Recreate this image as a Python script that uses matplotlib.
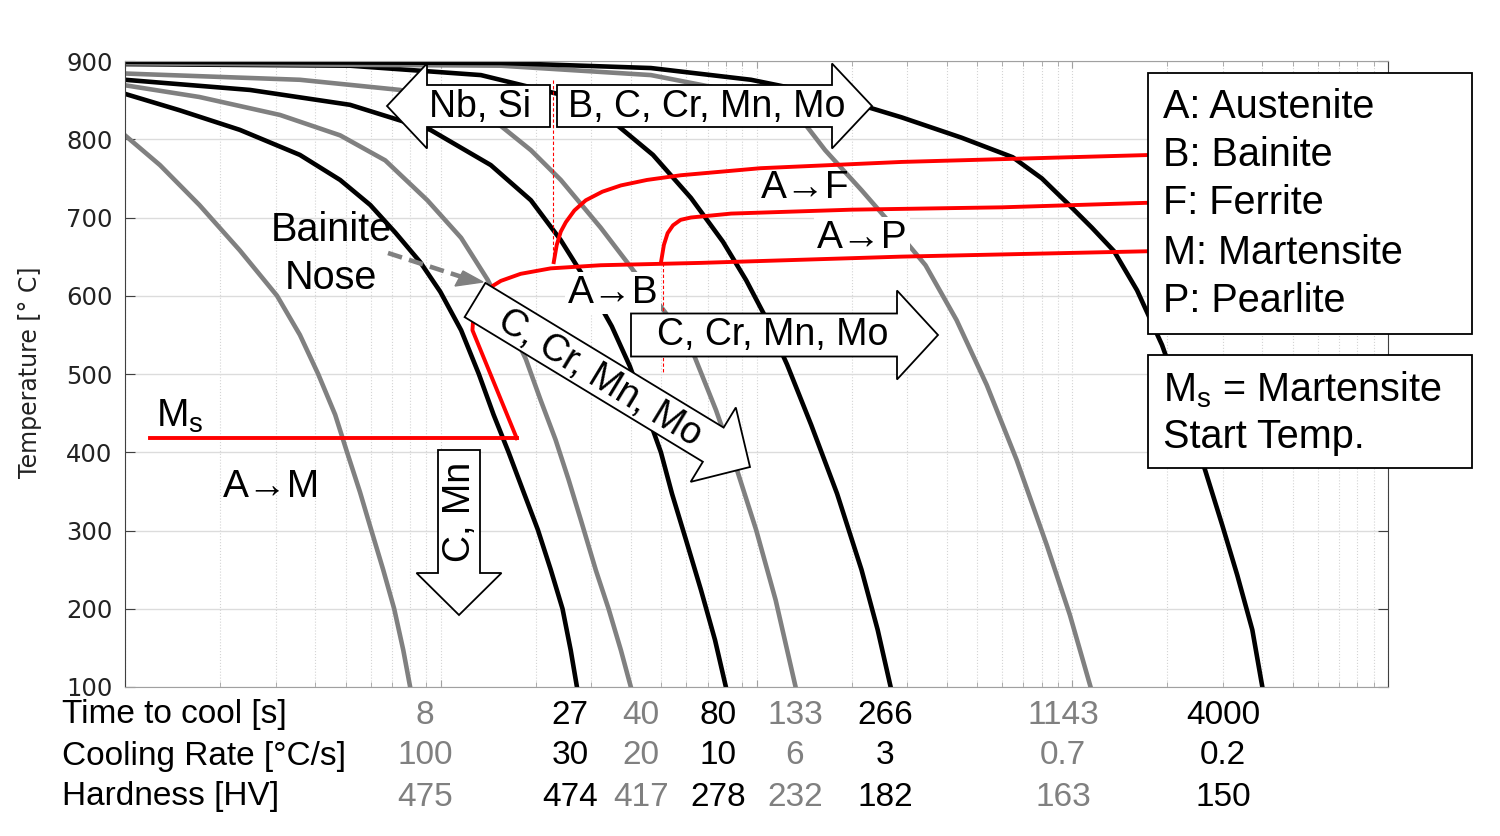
import numpy as np
import matplotlib
matplotlib.use("Agg")
import matplotlib.pyplot as plt
from matplotlib.patches import Polygon, Rectangle
from matplotlib.lines import Line2D

plt.rcParams['font.family'] = ['Liberation Sans', 'DejaVu Sans']
plt.rcParams['mathtext.default'] = 'regular'

W, H = 1500, 836

# cooling curves: (time [s], temperature [C])
curve_8 = [(1.0, 805), (1.29, 767), (1.72, 716), (2.31, 658), (3.03, 600), (3.58, 550),
           (4.09, 500), (4.63, 448), (5.05, 400), (5.55, 349), (6.02, 301), (6.57, 250),
           (7.12, 200), (7.61, 147), (8.0, 100)]
curve_27 = [(1.0, 858), (1.49, 837), (2.31, 812), (3.58, 780), (4.80, 748), (5.98, 716),
            (7.17, 681), (8.61, 643), (9.97, 605), (11.6, 556), (13.2, 500), (14.7, 448),
            (16.4, 400), (18.3, 349), (20.3, 301), (22.3, 250), (24.3, 200), (25.8, 147),
            (27.0, 100)]
curve_40 = [(1.0, 869), (1.72, 854), (3.10, 831), (4.80, 805), (6.67, 773), (9.07, 722),
            (11.6, 674), (14.1, 620), (16.0, 575), (18.6, 519), (20.7, 467), (23.1, 416),
            (25.4, 365), (27.8, 313), (31.0, 249), (34.0, 200), (37.2, 147), (40.0, 100)]
curve_80 = [(1.0, 876), (2.49, 863), (5.16, 844), (9.27, 812), (14.4, 767), (19.3, 722),
            (24.0, 671), (28.8, 620), (34.8, 561), (39.7, 510), (44.6, 454), (49.8, 400),
            (54.0, 347), (59.8, 288), (66.7, 224), (73.9, 160), (80.0, 100)]
curve_133 = [(1.0, 884), (3.58, 876), (7.44, 863), (11.5, 842), (15.5, 817), (19.3, 786),
             (24.0, 748), (32.1, 687), (43.0, 620), (53.6, 569), (63.4, 524), (74.4, 454),
             (86.8, 377), (99.7, 301), (115, 211), (133, 100)]
curve_266 = [(1.0, 896), (5.16, 894), (13.4, 882), (24.0, 857), (34.5, 825), (47.0, 780),
             (62.0, 725), (78.3, 669), (92.7, 620), (108, 569), (125, 512), (149, 435),
             (180, 347), (215, 250), (242, 173), (266, 100)]
curve_1143 = [(1.0, 897), (15.5, 894), (46.3, 882), (96.1, 857), (139, 825), (165, 786),
              (215, 735), (273, 687), (343, 639), (430, 569), (536, 486), (667, 390),
              (831, 281), (983, 192), (1143, 100)]
curve_4000 = [(1.0, 899), (15.5, 897.5), (46.3, 891), (96.1, 876), (173, 855), (288, 828),
              (446, 802), (648, 777), (801, 750), (961, 719), (1154, 687), (1356, 657),
              (1604, 607), (1925, 537), (2278, 454), (2636, 377), (2985, 307), (3331, 243),
              (3718, 173), (4000, 100)]

curves = [curve_8, curve_27, curve_40, curve_80, curve_133, curve_266, curve_1143, curve_4000]
curve_colors = ['#808080', 'black'] * 4

# transformation lines (red)
ms_line = [(1.2, 418), (17.4, 418)]
bainite_line = [(17.4, 418), (12.6, 556), (12.7, 577), (13.2, 596), (14.0, 608), (15.5, 619),
                (17.9, 628), (22.3, 635), (32.1, 639), (66.7, 642), (288, 650), (1800, 657)]
ferrite_line = [(22.8, 643), (23.3, 665), (24.0, 682), (24.9, 694), (26.5, 709), (28.8, 722),
                (32.5, 733), (37.2, 741), (45.0, 748), (57.6, 754), (103, 763), (288, 771),
                (1800, 780)]
pearlite_line = [(49.8, 642), (50.9, 665), (52.3, 680), (54.4, 690), (57.5, 697), (62.0, 700),
                 (83.1, 705), (200, 710), (598, 713), (1800, 719)]
ferrite_nose = [(22.6, 876), (22.6, 643)]
pearlite_nose = [(50.6, 642), (50.6, 503)]

# table under the chart
time_to_cool = ['8', '27', '40', '80', '133', '266', '1143', '4000']
cooling_rate = ['100', '30', '20', '10', '6', '3', '0.7', '0.2']
hardness = ['475', '474', '417', '278', '232', '182', '163', '150']
row_titles = ['Time to cool [s]', 'Cooling Rate [°C/s]', 'Hardness [HV]']
label_px = [425, 570, 641, 718, 795, 885, 1063, 1223]
row_px = [715, 756, 797]

legend_lines = ['A: Austenite', 'B: Bainite', 'F: Ferrite', 'M: Martensite', 'P: Pearlite']


def fx(x):
    return x / W


def fy(y):
    return 1 - y / H


def to_fig(pts):
    a = np.asarray(pts, float)
    return np.column_stack([a[:, 0] / W, 1 - a[:, 1] / H])


fig = plt.figure(figsize=(15, 8.36), dpi=100)
ax = fig.add_axes([125 / W, 1 - 687 / H, (1388 - 125) / W, (687 - 61) / H])

ax.set_xscale('log')
ax.set_xlim(1, 10000)
ax.set_ylim(100, 900)
ax.set_yticks(range(100, 1000, 100))
ax.set_axisbelow(True)
ax.grid(axis='y', which='major', color='#dcdcdc', lw=1)
ax.grid(axis='x', which='both', color='#d4d4d4', lw=0.8, ls=':')
ax.tick_params(axis='both', which='both', direction='in', top=True, right=True)
ax.tick_params(axis='x', which='both', labelbottom=False, color='#a0a0a0')
ax.tick_params(axis='x', which='major', length=5)
ax.tick_params(axis='x', which='minor', length=3.5)
ax.tick_params(axis='y', length=7, color='#404040', pad=9, labelsize=17.5)
for lab in ax.get_yticklabels():
    lab.set_family('DejaVu Sans')
    lab.set_color('#222222')
for s in ['top', 'bottom']:
    ax.spines[s].set_color('#a0a0a0')
for s in ['left', 'right']:
    ax.spines[s].set_color('#404040')

for c, col in zip(curves, curve_colors):
    t, T = zip(*c)
    ax.plot(t, T, color=col, lw=3.3, zorder=2, solid_joinstyle='round')

for line in [ms_line, bainite_line, ferrite_line, pearlite_line]:
    t, T = zip(*line)
    ax.plot(t, T, color='red', lw=2.8, zorder=3, solid_joinstyle='round')
for line in [ferrite_nose, pearlite_nose]:
    t, T = zip(*line)
    ax.plot(t, T, color='red', lw=0.8, ls=(0, (3, 2)), zorder=3)

fig.text(fx(30), fy(372), 'Temperature [° C]', rotation=90, ha='center', va='center',
         fontsize=17, family='DejaVu Sans', color='#222222')

# table below the axes
for title, y in zip(row_titles, row_px):
    fig.text(fx(62), fy(y), title, ha='left', va='center', fontsize=24)
for row, y in zip([time_to_cool, cooling_rate, hardness], row_px):
    for i, (val, x) in enumerate(zip(row, label_px)):
        col = '#808080' if i % 2 == 0 else 'black'
        fig.text(fx(x), fy(y), val, ha='center', va='center', fontsize=24, color=col)


def block_arrow(tail, tip, w, hw, hl, text, center, rot):
    tail = np.array(tail, float)
    tip = np.array(tip, float)
    d = tip - tail
    u = d / np.hypot(*d)
    n = np.array([-u[1], u[0]])
    neck = tip - u * hl
    pts = [tail + n * w / 2, neck + n * w / 2, neck + n * hw / 2, tip,
           neck - n * hw / 2, neck - n * w / 2, tail - n * w / 2]
    fig.add_artist(Polygon(to_fig(pts), closed=True, transform=fig.transFigure,
                           fc='white', ec='black', lw=1.3, zorder=5))
    fig.text(fx(center[0]), fy(center[1]), text, ha='center', va='center',
             rotation=rot, rotation_mode='anchor', fontsize=27, zorder=6)


block_arrow((550, 106), (387, 106), 42, 85, 40, 'Nb, Si', (480, 107), 0)
block_arrow((557, 106), (872, 106), 42, 85, 40, 'B, C, Cr, Mn, Mo', (707, 107), 0)
block_arrow((631, 335), (938, 335), 43, 89, 41, 'C, Cr, Mn, Mo', (773, 335), 0)
ang = np.degrees(np.arctan2(167, 275))
block_arrow((475, 300), (750, 467), 40, 87, 43, 'C, Cr, Mn, Mo', (600, 378), -ang)
block_arrow((459, 450), (459, 615), 42, 85, 42, 'C, Mn', (460, 512), 90)

# labels in the chart; A->P and A->B sit in white boxes that hide the black/gray
# curves but stay under the red lines
box = dict(fc='white', ec='none', pad=2)
ax.text(fx(862), fy(238), 'A→P', ha='center', va='center', fontsize=28, zorder=2.5,
        bbox=box, transform=fig.transFigure)
ax.text(fx(613), fy(293), 'A→B', ha='center', va='center', fontsize=28, zorder=2.5,
        bbox=box, transform=fig.transFigure)
fig.text(fx(805), fy(188), 'A→F', ha='center', va='center', fontsize=28, zorder=6)
fig.text(fx(272), fy(487), 'A→M', ha='center', va='center', fontsize=28, zorder=6)
fig.text(fx(331), fy(230), 'Bainite', ha='center', va='center', fontsize=28.5, zorder=6)
fig.text(fx(331), fy(278), 'Nose', ha='center', va='center', fontsize=28.5, zorder=6)
fig.text(fx(180), fy(416), 'M$_s$', ha='center', va='center', fontsize=28, zorder=6)

# dashed pointer to the bainite nose
fig.add_artist(Line2D([fx(388), fx(462)], [fy(253), fy(277)], color='#808080', lw=3.3,
                      ls=(0, (3.2, 1.6)), transform=fig.transFigure, zorder=4))
fig.add_artist(Polygon(to_fig([(463, 271), (483, 282), (455, 286)]), closed=True,
                       transform=fig.transFigure, fc='#808080', ec='#808080', zorder=4))

# legend boxes
fig.add_artist(Rectangle((fx(1148), fy(334)), (1472 - 1148) / W, (334 - 73) / H,
                         transform=fig.transFigure, fc='white', ec='black', lw=1.3, zorder=5))
fig.add_artist(Rectangle((fx(1148), fy(468)), (1472 - 1148) / W, (468 - 355) / H,
                         transform=fig.transFigure, fc='white', ec='black', lw=1.3, zorder=5))
for txt, y in zip(legend_lines, [107, 155, 203, 253, 301]):
    fig.text(fx(1163), fy(y), txt, ha='left', va='center', fontsize=28.5, zorder=6)
fig.text(fx(1163), fy(390), 'M$_s$ = Martensite', ha='left', va='center', fontsize=28.5, zorder=6)
fig.text(fx(1163), fy(437), 'Start Temp.', ha='left', va='center', fontsize=28.5, zorder=6)

fig.savefig('out.png', dpi=100)
